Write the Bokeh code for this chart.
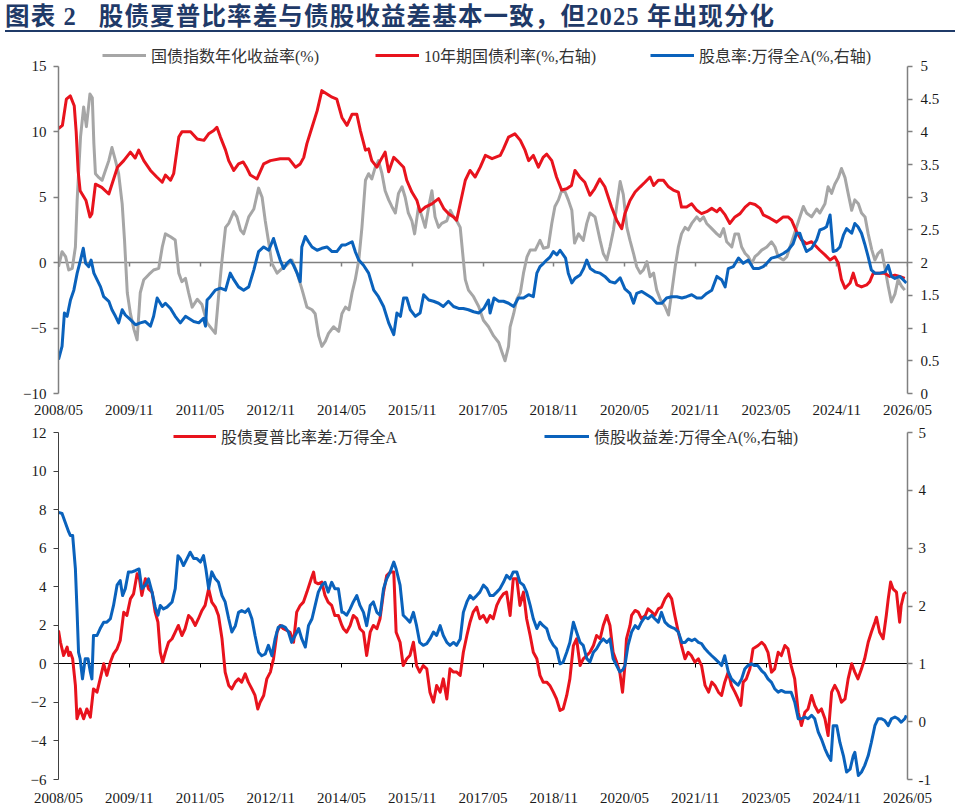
from bokeh.plotting import figure
from bokeh.models import (Range1d, LinearAxis, FixedTicker, NumeralTickFormatter,
                          Legend, LegendItem, Div)
from bokeh.layouts import column
from bokeh.embed import file_html
from bokeh.resources import INLINE

# ---------------- data (x = months since 2008/05) ----------------
TITLE = "图表 2   股债夏普比率差与债股收益差基本一致，但2025 年出现分化"
TICK_MONTHS = [0, 18, 36, 54, 72, 90, 108, 126, 144, 162, 180, 198, 216]
TICK_LABELS = ["2008/05", "2009/11", "2011/05", "2012/11", "2014/05", "2015/11", "2017/05",
               "2018/11", "2020/05", "2021/11", "2023/05", "2024/11", "2026/05"]

NAME_BOND_IDX = "国债指数年化收益率(%)"
NAME_10Y = "10年期国债利率(%,右轴)"
NAME_DIV = "股息率:万得全A(%,右轴)"
NAME_SHARPE = "股债夏普比率差:万得全A"
NAME_SPREAD = "债股收益差:万得全A(%,右轴)"

# top panel, left axis
bond_index_return = [(0,-0.3),(0.9,0.84),(1.8,0.46),(2.6,-0.56),(3.5,-0.43),(4.3,1.2),(4.75,4.8),(5.6,9.6),(6.4,11.9),(7.1,10.4),(8,12.9),(8.6,12.6),(9,9.1),(9.4,6.8),(10.3,6.5),(11.1,6.3),(12,7.1),(12.8,7.8),(13.6,8.8),(14.5,7.8),(15.3,6.8),(16.2,4.5),(16.8,1.7),(17.5,-2.3),(18.3,-3.9),(19.2,-5.1),(20,-5.9),(20.8,-2.3),(21.7,-1.3),(23,-0.9),(24.2,-0.56),(25.5,-0.43),(26.4,1.2),(27.2,2.2),(28.5,1.98),(29.7,1.73),(30.6,-0.8),(31.4,-1.45),(32.3,-1.2),(33.1,-2.3),(34,-3.4),(35.3,-2.8),(36.5,-3.2),(37.8,-4.6),(39.1,-5.1),(39.9,-5.4),(40.8,-2.3),(41.6,0.2),(42.5,2.7),(43.3,3.0),(44.6,3.9),(45.4,3.5),(46.3,2.5),(47.1,2.2),(48.4,3.5),(49.7,4.1),(50.9,5.7),(51.8,5.0),(52.6,3.2),(53.5,1.5),(54.3,-0.05),(55.6,-0.8),(56.9,-0.43),(58.1,-0.18),(59.4,0.2),(60.7,-0.8),(62,-2.1),(63.2,-3.4),(64.5,-3.6),(65.3,-3.9),(66.2,-5.6),(67,-6.4),(67.9,-6.0),(68.7,-5.4),(70,-4.9),(71.3,-5.25),(72.1,-3.9),(73,-3.4),(73.9,-3.6),(74.7,-2.3),(75.5,-1.3),(76.4,0.2),(77.2,2.7),(78.1,6.3),(78.9,6.8),(79.7,6.4),(80.6,7.3),(81.4,7.8),(82.3,6.8),(83.1,5.5),(84,4.8),(84.8,4.3),(85.7,3.8),(86.5,5.3),(87.4,5.8),(88.2,5.0),(89,3.8),(89.9,3.2),(90.6,2.2),(91.6,4.3),(92.5,3.5),(93.3,2.7),(94.2,4.3),(95,5.5),(95.8,3.5),(96.7,2.7),(97.5,3.0),(98.8,3.2),(99.7,4.0),(100.5,3.5),(101.3,3.2),(102.2,2.7),(103,0.2),(103.5,-1.3),(104.3,-2.1),(105.6,-2.6),(106.9,-3.35),(108.1,-4.4),(109.4,-4.9),(110.7,-5.6),(112,-6.1),(112.9,-6.9),(113.6,-7.5),(114.5,-6.4),(114.9,-4.9),(115.8,-3.9),(116.6,-2.8),(117.5,-2.3),(118.3,-0.8),(119.2,0.45),(120,0.96),(121.3,0.96),(122.5,1.7),(123.4,1.1),(124.6,1.2),(125.5,3.0),(126.3,4.3),(127.2,4.8),(128,5.5),(128.9,5.4),(129.7,4.8),(130.6,4.0),(131.3,1.5),(132.3,2.2),(133.5,1.7),(134.4,3.0),(135.2,3.8),(136.5,3.5),(137.8,1.7),(138.6,0.7),(139.5,0.2),(140.3,1.2),(141.2,2.5),(142,4.3),(142.9,6.2),(143.7,5.2),(144.6,2.7),(145.4,1.7),(146.3,0.7),(147.1,-0.3),(148,-0.8),(148.8,-0.56),(149.7,0.08),(150.5,-1.07),(151.4,-0.8),(152.2,-2.1),(153.1,-2.8),(154.3,-3.35),(155.2,-4.0),(156,-2.3),(156.9,-0.3),(157.7,1.2),(158.5,2.2),(159.4,2.7),(160.2,2.5),(161.1,3.0),(162.4,3.5),(163.2,3.2),(164.1,3.5),(164.9,3.0),(166.2,2.6),(167.5,2.2),(168.3,2.0),(169.2,2.6),(170,1.6),(171.3,1.2),(172.1,2.2),(173,2.2),(173.8,1.2),(174.7,0.7),(175.5,0.46),(176.4,-0.05),(177.2,0.46),(178.1,0.7),(178.9,0.96),(180.2,1.2),(181.4,1.6),(182.3,1.2),(183.1,0.46),(184.4,0.2),(185.3,0.46),(186.1,1.2),(187,2.0),(188.3,3.2),(189.5,4.3),(190.3,3.8),(191.6,3.5),(192.9,4.1),(193.7,3.8),(195,4.5),(195.8,5.8),(196.7,5.3),(197.5,6.0),(198.4,6.5),(199.2,7.2),(200.1,6.5),(200.9,5.3),(201.8,4.0),(202.6,4.8),(203.5,4.5),(204.3,3.8),(205.2,3.5),(206,2.2),(206.9,1.0),(207.7,0.2),(208.5,0.7),(209.4,0.96),(210.2,-0.3),(211.1,-1.8),(211.9,-3.0),(212.8,-2.4),(213.6,-1.3),(214.5,-1.8),(215.3,-2.1)]

# top panel, right axis
cgb_10y_yield = [(0,4.05),(1,4.1),(2,4.5),(3,4.55),(4,4.4),(4.5,4.0),(5,3.4),(5.5,3.1),(7,2.95),(8,2.7),(8.5,2.75),(9.4,3.2),(11,3.15),(12.8,3.05),(15,3.46),(16.6,3.56),(18.3,3.69),(19.5,3.6),(20.4,3.72),(21.7,3.56),(23.4,3.41),(25,3.31),(26.4,3.23),(27.2,3.34),(28.5,3.26),(29.3,3.36),(30.6,3.92),(31.4,4.0),(33.6,4.0),(35.3,3.89),(37,3.87),(38.2,3.97),(39.5,4.02),(40.3,4.07),(41.2,3.92),(42.5,3.72),(43.3,3.56),(44.6,3.41),(45.8,3.51),(47,3.54),(47.8,3.46),(48.8,3.34),(50.5,3.28),(52.2,3.51),(53.9,3.56),(56.4,3.59),(58.6,3.59),(60.3,3.46),(61.5,3.51),(62.4,3.61),(63.2,3.82),(64.5,4.07),(65.8,4.32),(67,4.63),(68.3,4.58),(69.6,4.53),(70.8,4.5),(72.1,4.22),(73.4,4.1),(74.7,4.27),(75.9,4.27),(76.8,4.02),(78.1,3.72),(78.9,3.74),(79.7,3.56),(81,3.46),(81.9,3.56),(83.1,3.69),(84,3.39),(85.3,3.61),(86.5,3.54),(87.8,3.46),(88.6,3.26),(89.9,3.08),(91.2,2.95),(92,2.78),(93.3,2.85),(95,2.9),(96.7,2.98),(98,2.83),(99.2,2.75),(100.5,2.7),(101.3,2.65),(102.2,2.9),(103.5,3.26),(104.7,3.41),(106,3.31),(107.3,3.46),(108.6,3.64),(110.3,3.59),(112.4,3.64),(113.2,3.74),(114.5,3.92),(116.1,3.97),(117.5,3.87),(118.7,3.72),(119.6,3.56),(120.8,3.64),(122.1,3.46),(123.3,3.61),(124.2,3.66),(125.5,3.56),(126.7,3.31),(128,3.11),(129.3,3.13),(130.5,3.18),(131.4,3.41),(132.6,3.31),(133.9,3.23),(135.2,3.03),(136.4,3.13),(137.7,3.28),(139,3.16),(140.7,2.85),(142,2.65),(143.3,2.52),(144.1,2.75),(145.4,2.95),(146.7,3.08),(148,3.16),(149.2,3.23),(150.5,3.31),(151.4,3.18),(152.6,3.26),(153.9,3.26),(155.2,3.16),(156.4,3.11),(157.7,3.08),(158.5,2.85),(159.8,2.85),(161.1,2.9),(162.4,2.8),(163.6,2.75),(164.9,2.78),(166.2,2.83),(167.5,2.78),(168.3,2.83),(169.6,2.73),(170.8,2.6),(172.1,2.7),(173.4,2.75),(174.7,2.85),(175.9,2.91),(177.2,2.89),(178.5,2.83),(179.3,2.73),(181,2.68),(182.7,2.62),(184.4,2.7),(185.6,2.7),(186.5,2.65),(187.8,2.47),(189,2.35),(190.3,2.29),(191.6,2.32),(192.9,2.24),(193.7,2.19),(195,2.12),(196.3,2.04),(197.5,2.09),(198.4,1.99),(199.2,1.74),(200.1,1.61),(201.4,1.69),(202.2,1.84),(203.1,1.66),(204.3,1.63),(205.6,1.66),(206.4,1.71),(207.3,1.84),(209,1.84),(210.2,1.84),(211.5,1.79),(212.8,1.81),(214,1.79),(215.3,1.76)]

# top panel, right axis
dividend_yield = [(0,0.52),(0.9,0.72),(1.5,1.23),(2.2,1.18),(3.05,1.43),(3.9,1.58),(4.75,1.84),(5.6,2.04),(6.3,2.22),(6.9,1.99),(7.7,1.94),(8.3,2.04),(9,1.84),(9.8,1.74),(10.7,1.63),(11.5,1.48),(12.8,1.41),(13.6,1.28),(14.5,1.18),(15.3,1.08),(16.2,1.28),(17,1.2),(18.3,1.13),(19.6,1.05),(20.8,1.08),(22.1,1.1),(23.4,1.03),(24.2,1.18),(25.1,1.46),(26.4,1.33),(27.2,1.38),(28.5,1.3),(29.7,1.18),(31,1.08),(32.3,1.18),(33.1,1.15),(34.4,1.1),(35.7,1.08),(36.9,1.15),(37.4,1.03),(37.8,1.43),(38.6,1.48),(39.9,1.58),(41.2,1.61),(42.5,1.58),(43.7,1.84),(44.6,1.74),(45.8,1.63),(47.1,1.58),(48.4,1.63),(49.7,1.89),(50.9,2.17),(52.2,2.24),(53.5,2.19),(54.7,2.37),(55.6,2.19),(56.4,2.04),(57.3,1.91),(58.1,1.99),(59,2.04),(59.8,1.96),(60.7,1.84),(61.5,1.71),(61.9,2.24),(62.8,2.4),(63.6,2.32),(64.5,2.24),(65.8,2.19),(67,2.22),(68.3,2.24),(69.6,2.17),(70.8,2.17),(72.1,2.27),(73,2.27),(74.7,2.32),(75.5,2.17),(76.4,2.04),(77.6,1.96),(78.9,1.84),(80.2,1.58),(81.4,1.48),(82.7,1.33),(84,1.08),(85.3,0.9),(86.1,1.23),(87,1.18),(87.8,1.46),(88.6,1.46),(89.5,1.28),(90.8,1.18),(92,1.23),(92.9,1.51),(94.2,1.43),(95.4,1.41),(96.7,1.38),(97.9,1.33),(99.2,1.41),(100.5,1.33),(101.8,1.3),(103,1.3),(104.3,1.28),(105.6,1.25),(106.9,1.23),(108.2,1.3),(109.4,1.43),(109.8,1.23),(110.8,1.46),(112,1.41),(113.2,1.41),(114.5,1.38),(115.8,1.33),(117,1.46),(118.3,1.46),(119.6,1.51),(120.8,1.48),(121.7,1.84),(122.5,1.94),(123.4,1.99),(124.2,2.04),(125.1,2.09),(125.9,2.17),(126.8,2.12),(127.6,2.19),(129,2.07),(129.7,1.84),(130.6,1.69),(131.4,1.76),(132.7,1.81),(133.6,1.91),(134.4,2.04),(135.3,1.91),(136.5,1.86),(137.8,1.84),(139,1.79),(140.3,1.71),(141.6,1.69),(142.9,1.77),(144.1,1.6),(145.4,1.53),(146.3,1.38),(147.1,1.53),(148.4,1.56),(149.7,1.51),(151,1.46),(152.2,1.38),(153.5,1.38),(154.7,1.46),(156,1.48),(157.3,1.48),(158.6,1.46),(159.8,1.48),(161.1,1.51),(162.4,1.46),(163.6,1.46),(164.9,1.53),(166.2,1.58),(167.5,1.79),(168.7,1.74),(169.6,1.63),(170.4,1.91),(171.7,1.94),(173,2.07),(174.2,1.99),(175.5,2.04),(176.8,1.91),(178.1,1.91),(179.3,1.94),(180.2,1.99),(181.4,2.07),(182.7,2.09),(184.4,2.14),(185.6,2.19),(186.9,2.29),(187.8,2.45),(188.6,2.45),(189.5,2.29),(190.3,2.17),(191.6,2.22),(192.9,2.35),(193.7,2.5),(194.6,2.52),(195.4,2.55),(196.3,2.73),(197.1,2.17),(198,2.19),(198.8,2.24),(199.7,2.42),(200.5,2.52),(201.8,2.45),(202.6,2.6),(203.4,2.55),(204.3,2.45),(205.1,2.29),(206,2.09),(206.8,1.89),(207.7,1.84),(209,1.84),(210.3,1.86),(211.1,1.96),(211.9,1.79),(212.8,1.76),(214,1.79),(214.9,1.74),(215.7,1.69)]

# bottom panel, left axis
sharpe_diff = [(0,1.73),(0.5,1.12),(1.3,0.43),(2.2,0.87),(2.6,0.43),(3,0.6),(3.6,0.26),(4.3,-1.12),(4.7,-2.85),(5.5,-2.34),(6.4,-2.85),(7.2,-2.34),(8.1,-2.77),(8.9,-1.3),(9.8,-1.47),(10.6,-0.78),(11.5,0),(12.3,-0.6),(13.2,0.09),(14,0.52),(14.9,0.78),(15.7,1.21),(16.6,2.68),(17.4,2.51),(18.3,3.37),(19.1,3.63),(20,4.67),(20.6,4.41),(21.2,3.55),(22.1,4.41),(22.9,3.89),(23.8,3.72),(24.6,2.68),(25.3,2.16),(25.9,0.6),(26.5,0.09),(27.2,0.6),(28,1.12),(28.9,1.3),(29.7,1.64),(30.5,1.99),(31.4,1.47),(32.2,1.82),(33.1,2.51),(33.9,2.34),(34.8,1.99),(35.6,2.34),(36.5,2.77),(37.3,3.03),(38.2,3.89),(39,3.2),(39.9,2.94),(40.7,2.51),(41.6,1.3),(42.4,-0.43),(43.3,-1.12),(44.1,-1.3),(45,-0.95),(45.8,-0.78),(46.6,-0.95),(47.5,-0.52),(48.3,-0.95),(49.2,-1.3),(50,-1.64),(50.7,-2.34),(51.3,-1.99),(52.2,-1.64),(53,-0.78),(53.9,-0.43),(54.7,0.26),(55.6,1.64),(56.4,1.99),(57.2,1.82),(58.1,1.73),(58.9,1.64),(59.8,1.12),(60.6,2.68),(61.5,3.03),(62.3,3.2),(63.2,3.72),(64.3,4.41),(64.9,4.76),(65.3,4.24),(66.1,4.15),(67,4.24),(67.8,3.55),(68.6,3.2),(69.5,3.03),(70.3,2.51),(71.2,2.51),(72.1,1.99),(72.5,1.82),(73.3,1.64),(74.2,1.99),(75,2.51),(75.9,2.34),(76.7,1.82),(77.6,1.64),(78.4,0.43),(79.3,1.64),(80.1,1.99),(81,1.82),(81.8,2.34),(82.7,3.72),(83.5,4.58),(84.4,4.76),(85.3,4.76),(85.9,1.64),(86.9,1.12),(87.7,-0.09),(88.6,0.26),(89.4,0.43),(90.3,1.12),(91.1,-0.09),(91.9,-0.43),(92.8,-0.09),(93.7,-0.26),(94.5,-1.47),(95.4,-1.99),(96.2,-1.12),(97.1,-1.47),(97.9,-0.78),(98.8,-1.82),(99.6,-0.26),(100.5,-0.43),(101.3,-0.43),(102.2,-0.6),(103,0.6),(103.9,1.47),(104.7,2.16),(105.5,2.68),(106.4,2.94),(107.2,2.34),(108.1,2.51),(109,2.16),(109.8,2.51),(110.6,2.34),(111.5,3.03),(112.3,3.37),(113.2,3.63),(114,3.72),(114.9,2.51),(115.7,4.41),(116.6,4.41),(117.4,3.03),(118.3,3.72),(119.1,2.34),(120,1.47),(120.8,0.6),(121.7,0.26),(122.5,-0.6),(123.3,-0.95),(124.2,-0.95),(125,-1.12),(125.9,-1.47),(126.7,-1.82),(127.6,-2.42),(128.4,-2.34),(129.3,-1.64),(130.1,-0.78),(131,0.95),(131.8,1.3),(132.7,-0.09),(133.5,0.26),(134.4,0.43),(135.2,0.6),(136.1,0.95),(136.9,1.47),(137.8,1.3),(138.6,1.99),(139.5,2.51),(140.3,1.99),(141.1,0.6),(142,0.09),(142.8,-0.43),(143.5,-1.47),(144.1,-0.09),(144.5,1.3),(145.4,1.99),(145.8,2.51),(146.7,2.77),(147.5,2.68),(148.3,2.34),(149.3,2.51),(150,2.85),(151,2.68),(151.7,2.51),(152.6,2.85),(153.4,2.94),(154.3,3.37),(155.2,3.63),(156,3.37),(156.8,2.51),(157.7,1.64),(158.5,0.95),(159.4,0.26),(160.2,0.6),(161,0.43),(161.9,0.09),(162.8,0.26),(163.6,-0.09),(164.5,-1.12),(165.4,-1.47),(166.2,-0.95),(167,-1.12),(167.9,-1.47),(168.7,-1.64),(169.5,-0.95),(170.4,-0.43),(171.2,-1.12),(172.1,-1.47),(172.9,-1.82),(173.6,-2.16),(174.2,-0.95),(175,-0.78),(175.9,-0.26),(176.7,0.78),(178,0.95),(178.9,1.12),(179.7,0.95),(180.5,0.6),(181.4,-0.43),(182.2,-0.26),(183.1,0.6),(183.9,0.43),(184.8,0.95),(185.6,0.78),(186.4,-0.09),(187.3,-0.78),(188.2,-2.51),(189,-3.2),(189.9,-2.51),(190.7,-2.34),(191.6,-1.64),(192.4,-2.16),(193.3,-2.51),(194.1,-2.34),(195,-2.85),(195.8,-3.72),(196.7,-1.47),(197.5,-1.12),(198.4,-1.47),(199.2,-1.99),(200.1,-1.82),(200.9,-0.78),(201.8,0),(202.6,-0.43),(203.4,-0.78),(204.3,-0.26),(205.1,0.26),(206,1.12),(206.8,1.64),(207.7,2.16),(208.1,2.42),(208.9,1.64),(209.8,1.3),(210.6,2.51),(211.1,3.37),(211.7,4.24),(212.3,3.89),(213.2,3.72),(214,2.16),(214.4,3.03),(215.1,3.63),(215.7,3.72)]

# bottom panel, right axis
bond_equity_spread = [(0,3.62),(0.9,3.6),(1.7,3.45),(2.6,3.28),(3,3.22),(3.6,3.22),(4.3,2.64),(4.7,1.95),(5.1,1.2),(5.5,1.09),(6.1,0.74),(6.8,1.09),(7.5,1.09),(8.1,0.86),(8.5,0.74),(8.9,1.49),(9.8,1.49),(10.6,1.61),(11.5,1.72),(12.3,1.72),(13.2,1.78),(14,2.01),(14.9,2.36),(15.7,2.44),(16.3,2.18),(17,2.3),(17.8,2.59),(18.7,2.59),(19.5,2.61),(20.5,2.64),(21.2,2.3),(22.1,2.36),(22.9,2.47),(23.8,2.24),(24.6,1.98),(25.3,1.84),(25.9,2.01),(26.7,1.95),(27.6,1.98),(28.9,2.07),(29.7,2.3),(30.4,2.87),(31,2.82),(31.8,2.7),(32.7,2.82),(33.5,2.93),(34.4,2.82),(35.2,2.82),(36.1,2.76),(36.9,2.87),(37.5,2.64),(38.2,2.3),(39,2.59),(39.9,2.47),(40.7,2.41),(41.6,2.18),(42.4,2.07),(43.3,1.78),(44.1,1.55),(45,1.66),(45.8,1.89),(46.6,1.92),(47.5,1.89),(48.3,1.95),(49.2,1.78),(50,1.49),(50.9,1.2),(51.7,1.14),(52.6,1.17),(53.4,1.32),(54.3,1.14),(55.1,1.43),(55.9,1.63),(56.8,1.66),(57.7,1.63),(58.5,1.55),(59.3,1.37),(60.2,1.49),(61.1,1.61),(61.9,1.43),(62.8,1.29),(63.6,1.66),(64.5,1.78),(65.3,2.01),(66.1,2.24),(67,2.36),(67.8,2.41),(68.6,2.24),(69.5,2.41),(70.3,2.3),(71.2,2.3),(72.1,1.89),(72.5,1.89),(73.3,1.84),(74.2,1.95),(75,2.07),(75.9,2.18),(76.7,2.01),(77.6,1.89),(78.4,1.66),(79.3,2.01),(80.1,2.07),(81,1.89),(81.8,1.84),(82.7,2.3),(83.5,2.47),(84.4,2.59),(85.3,2.76),(85.9,2.64),(86.9,2.36),(87.7,1.84),(88.6,1.78),(89.4,1.72),(90.3,1.89),(91.1,1.66),(91.9,1.37),(92.8,1.32),(93.7,1.35),(94.5,1.43),(95.4,1.55),(96.2,1.49),(97.1,1.66),(97.9,1.49),(98.8,1.37),(99.6,1.32),(100.5,1.37),(101.3,1.32),(102.2,1.43),(103,1.89),(103.9,2.07),(104.7,2.18),(105.5,2.12),(106.4,2.18),(107.2,2.24),(108.1,2.36),(109,2.3),(109.8,2.18),(110.6,2.18),(111.5,2.24),(112.3,2.3),(113.2,2.41),(114,2.53),(114.9,2.47),(115.7,2.59),(116.6,2.59),(117.4,2.41),(118.3,2.36),(119.1,2.24),(120,2.01),(120.8,1.78),(121.7,1.61),(122.5,1.72),(123.3,1.66),(124.2,1.61),(125,1.43),(125.9,1.32),(126.7,1.26),(127.6,1.0),(128.4,1.03),(129.3,1.2),(130.1,1.37),(131,1.72),(131.8,1.55),(132.7,1.37),(133.5,1.32),(134.4,1.09),(135.2,1.03),(136.1,1.2),(136.9,1.26),(137.8,1.37),(138.6,1.43),(139.5,1.37),(140.3,1.43),(141.1,1.09),(142,0.97),(142.8,0.86),(143.6,0.9),(144.1,0.97),(144.9,1.32),(145.8,1.55),(146.7,1.66),(147.5,1.61),(148.3,1.72),(149.2,1.81),(150,1.78),(150.9,1.84),(151.7,1.78),(152.6,1.72),(153.4,1.89),(154.3,1.72),(155.2,1.66),(156,1.63),(156.8,1.61),(157.7,1.55),(158.6,1.37),(159.4,1.37),(160.2,1.43),(161.1,1.4),(161.9,1.43),(162.8,1.37),(163.6,1.35),(164.5,1.26),(165.3,1.2),(166.2,1.14),(167,1.09),(167.9,1.03),(168.7,0.97),(169.5,1.14),(170.4,0.86),(171.2,0.74),(172.1,0.68),(172.9,0.63),(173.8,0.74),(174.6,0.91),(175.4,0.97),(176.3,1.0),(177.1,0.97),(177.9,0.97),(178.9,0.88),(179.7,0.83),(180.5,0.74),(181.4,0.68),(182.2,0.57),(183.1,0.51),(183.9,0.54),(184.8,0.51),(185.6,0.51),(186.4,0.51),(187.3,0.34),(188.2,0.05),(189,0.05),(189.9,0.08),(190.7,0.05),(191.6,0.11),(192.4,0.05),(193.3,-0.18),(194.1,-0.3),(195,-0.47),(195.8,-0.59),(196.5,-0.67),(197.1,-0.07),(198,-0.07),(198.8,-0.36),(199.7,-0.59),(200.5,-0.87),(201.4,-0.82),(202.2,-0.59),(202.6,-0.53),(203.5,-0.93),(204.3,-0.87),(205.1,-0.76),(206,-0.59),(206.8,-0.36),(207.7,-0.07),(208.5,0.05),(209.4,0.05),(210.2,0.02),(211.1,-0.07),(211.9,0.05),(212.8,0.08),(213.6,0.05),(214.4,-0.01),(215.3,0.05),(215.7,0.11)]

TOP_LEFT_TICKS = [-10, -5, 0, 5, 10, 15]
TOP_RIGHT_TICKS = [0, 0.5, 1, 1.5, 2, 2.5, 3, 3.5, 4, 4.5, 5]
BOT_LEFT_TICKS = [-6, -4, -2, 0, 2, 4, 6, 8, 10, 12]
BOT_RIGHT_TICKS = [-1, 0, 1, 2, 3, 4, 5]
TOP_LEFT_RANGE = (-10, 15)
TOP_RIGHT_RANGE = (0, 5)
BOT_LEFT_RANGE = (-6, 12)
BOT_RIGHT_RANGE = (-1, 5)

# ---------------- styling ----------------
GRAY = "#A6A6A6"
RED = "#E8131D"
BLUE = "#0A62BC"
SERIF = "Liberation Serif"
MIXED = "'Liberation Serif', 'Noto Sans CJK SC'"
LABEL_COLOR = "#1a1a1a"
LW = 3

# frames: pixel length of the value axes plus headroom above them that holds the legend
TOP_AXIS_PX, TOP_HEAD_PX = 328, 20
BOT_AXIS_PX, BOT_HEAD_PX = 347, 8


def xs(series):
    return [p[0] for p in series]


def ys(series):
    return [p[1] for p in series]


def headroom(rng, px_axis, px_head):
    lo, hi = rng
    return hi + (hi - lo) * px_head / px_axis


def style_value_axis(ax, color, width, standoff):
    ax.axis_line_color = color
    ax.axis_line_width = width
    ax.major_tick_line_color = color
    ax.major_tick_line_width = width
    ax.major_tick_out = 5
    ax.major_tick_in = 0
    ax.minor_tick_out = 0
    ax.minor_tick_in = 0
    ax.major_label_standoff = standoff
    ax.major_label_text_font = SERIF
    ax.major_label_text_font_size = "15px"
    ax.major_label_text_color = LABEL_COLOR


def add_time_axes(p, zero_color, zero_width, label_standoff):
    lab = LinearAxis(ticker=FixedTicker(ticks=TICK_MONTHS),
                     major_label_overrides=dict(zip(TICK_MONTHS, TICK_LABELS)))
    lab.axis_line_color = None
    lab.major_tick_line_color = None
    lab.major_tick_out = 0
    lab.major_tick_in = 0
    lab.minor_tick_out = 0
    lab.minor_tick_in = 0
    lab.major_label_standoff = label_standoff
    lab.major_label_text_font = SERIF
    lab.major_label_text_font_size = "15px"
    lab.major_label_text_color = LABEL_COLOR
    p.add_layout(lab, "below")

    zero = LinearAxis(ticker=FixedTicker(ticks=TICK_MONTHS), fixed_location=0)
    zero.axis_line_color = zero_color
    zero.axis_line_width = zero_width
    zero.major_tick_line_color = zero_color
    zero.major_tick_line_width = zero_width
    zero.major_tick_in = 4
    zero.major_tick_out = 0
    zero.minor_tick_in = 0
    zero.minor_tick_out = 0
    zero.major_label_standoff = 0
    zero.major_label_text_alpha = 0
    zero.major_label_text_font_size = "1px"
    zero.level = "underlay"
    p.add_layout(zero, "above")


def one_legend(p, label, renderer, x, y, gw):
    leg = Legend(items=[LegendItem(label=label, renderers=[renderer])],
                 location=(x, y), orientation="horizontal")
    leg.glyph_width = gw
    leg.glyph_height = 16
    leg.label_height = 16
    leg.label_standoff = 5
    leg.padding = 0
    leg.margin = 0
    leg.spacing = 0
    leg.border_line_alpha = 0
    leg.background_fill_alpha = 0
    leg.label_text_font = MIXED
    leg.label_text_font_size = "16px"
    leg.label_text_color = "#333333"
    p.add_layout(leg)


# ---------------- title ----------------
title_html = (
    '<div style="position:relative;width:950px;height:32px;margin:0 0 0 5px;'
    'border-bottom:2px solid #1F3A68;">'
    '<span style="position:absolute;left:0;top:4px;line-height:26px;white-space:pre;'
    "font-family:'Liberation Serif','Noto Sans CJK SC',serif;font-weight:bold;"
    'font-size:24.5px;letter-spacing:1.15px;color:#1F3A68;">' + TITLE + '</span></div>'
)
title_div = Div(text=title_html, width=960, height=38, margin=0)

# ---------------- top panel ----------------
p1 = figure(width=960, height=382, x_range=Range1d(0, 216),
            y_range=Range1d(TOP_LEFT_RANGE[0], headroom(TOP_LEFT_RANGE, TOP_AXIS_PX, TOP_HEAD_PX)),
            x_axis_type=None, y_axis_type=None, output_backend="svg",
            toolbar_location=None, min_border_left=58, min_border_right=53,
            min_border_top=8, min_border_bottom=26, margin=0)
p1.extra_y_ranges = {"r": Range1d(TOP_RIGHT_RANGE[0],
                                  headroom(TOP_RIGHT_RANGE, TOP_AXIS_PX, TOP_HEAD_PX))}
p1.outline_line_color = None
p1.background_fill_color = "white"

l1 = LinearAxis(ticker=FixedTicker(ticks=TOP_LEFT_TICKS), bounds=TOP_LEFT_RANGE)
style_value_axis(l1, "#808080", 1.5, 7)
p1.add_layout(l1, "left")
r1 = LinearAxis(y_range_name="r", ticker=FixedTicker(ticks=TOP_RIGHT_TICKS),
                formatter=NumeralTickFormatter(format="0.[0]"), bounds=TOP_RIGHT_RANGE)
style_value_axis(r1, "#808080", 1.5, 8)
p1.add_layout(r1, "right")
add_time_axes(p1, "#808080", 1.5, 8)

g_r = p1.line(xs(bond_index_return), ys(bond_index_return), line_color=GRAY,
              line_width=LW, line_join="round")
red_r = p1.line(xs(cgb_10y_yield), ys(cgb_10y_yield), y_range_name="r", line_color=RED,
                line_width=LW, line_join="round")
blue_r = p1.line(xs(dividend_yield), ys(dividend_yield), y_range_name="r", line_color=BLUE,
                 line_width=LW, line_join="round")

one_legend(p1, NAME_BOND_IDX, g_r, 44, 326, 44)
one_legend(p1, NAME_10Y, red_r, 317, 326, 44)
one_legend(p1, NAME_DIV, blue_r, 592, 326, 44)

# ---------------- bottom panel ----------------
p2 = figure(width=960, height=388, x_range=Range1d(0, 216),
            y_range=Range1d(BOT_LEFT_RANGE[0], headroom(BOT_LEFT_RANGE, BOT_AXIS_PX, BOT_HEAD_PX)),
            x_axis_type=None, y_axis_type=None, output_backend="svg",
            toolbar_location=None, min_border_left=57, min_border_right=52,
            min_border_top=4, min_border_bottom=29, margin=0)
p2.extra_y_ranges = {"r": Range1d(BOT_RIGHT_RANGE[0],
                                  headroom(BOT_RIGHT_RANGE, BOT_AXIS_PX, BOT_HEAD_PX))}
p2.outline_line_color = None
p2.background_fill_color = "white"

l2 = LinearAxis(ticker=FixedTicker(ticks=BOT_LEFT_TICKS), bounds=BOT_LEFT_RANGE)
style_value_axis(l2, "#404040", 1, 7)
p2.add_layout(l2, "left")
r2 = LinearAxis(y_range_name="r", ticker=FixedTicker(ticks=BOT_RIGHT_TICKS),
                formatter=NumeralTickFormatter(format="0.[0]"), bounds=BOT_RIGHT_RANGE)
style_value_axis(r2, "#808080", 1.5, 6)
p2.add_layout(r2, "right")
add_time_axes(p2, "#000000", 1, 10)

red2 = p2.line(xs(sharpe_diff), ys(sharpe_diff), line_color=RED, line_width=LW,
               line_join="round")
blue2 = p2.line(xs(bond_equity_spread), ys(bond_equity_spread), y_range_name="r",
                line_color=BLUE, line_width=LW, line_join="round")

one_legend(p2, NAME_SHARPE, red2, 115, 331, 43)
one_legend(p2, NAME_SPREAD, blue2, 486, 331, 45)

layout = column(title_div, p1, p2, spacing=0, margin=0)
open("out.html", "w").write(file_html(layout, INLINE))
